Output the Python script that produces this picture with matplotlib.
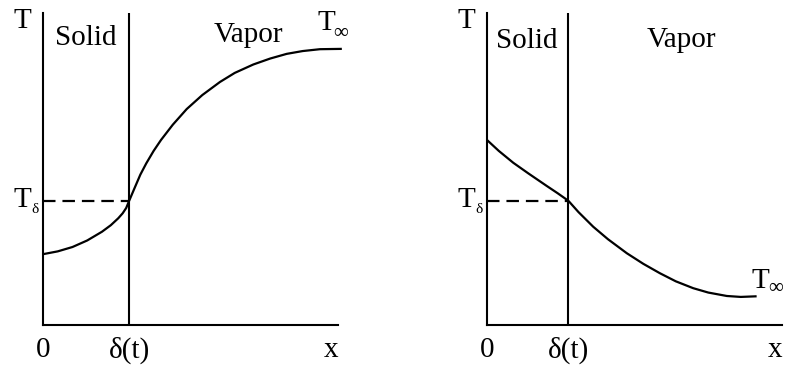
import matplotlib
matplotlib.use('Agg')
import matplotlib.pyplot as plt

plt.rcParams['font.family'] = ['Liberation Serif', 'DejaVu Serif']
plt.rcParams['lines.scale_dashes'] = False

# interface position and temperature at the interface
delta_left = 2.92
delta_right = 2.76
T_delta = 3.98

# left case: interface colder than the vapor
solid_x_l = [0, 0.5, 1.0, 1.5, 2.0, 2.3, 2.55, 2.7, 2.82, 2.92]
solid_T_l = [2.27, 2.36, 2.50, 2.71, 2.99, 3.20, 3.42, 3.58, 3.75, 3.98]
vapor_x_l = [2.92, 3.1, 3.3, 3.5, 3.75, 4.0, 4.4, 4.87, 5.4, 6.0, 6.5, 7.13, 7.7, 8.26, 8.8, 9.39, 10.13]
vapor_T_l = [3.98, 4.38, 4.82, 5.18, 5.58, 5.93, 6.42, 6.92, 7.37, 7.79, 8.08, 8.35, 8.54, 8.69, 8.78, 8.84, 8.85]

# right case: interface hotter than the vapor
solid_x_r = [0, 0.4, 0.89, 1.4, 2.02, 2.4, 2.76]
solid_T_r = [5.93, 5.58, 5.20, 4.86, 4.46, 4.22, 3.98]
vapor_x_r = [2.76, 3.1, 3.6, 4.1, 4.74, 5.3, 5.86, 6.4, 6.99, 7.5, 8.13, 8.6, 9.14]
vapor_T_r = [3.98, 3.62, 3.15, 2.75, 2.30, 1.96, 1.66, 1.40, 1.18, 1.04, 0.93, 0.90, 0.92]

FS = 21
W, H = 788, 368
fig = plt.figure(figsize=(W / 100, H / 100), dpi=100)
ax1 = fig.add_axes([43 / W, (H - 325) / H, 295 / W, 312 / H])
ax2 = fig.add_axes([487 / W, (H - 325) / H, 295 / W, 312 / H])


def panel(ax, delta, sx, sT, vx, vT):
    ax.set_xlim(0, 10)
    ax.set_ylim(0, 10)
    ax.set_xticks([])
    ax.set_yticks([])
    ax.patch.set_alpha(0)
    for s in ['top', 'right']:
        ax.spines[s].set_visible(False)
    for s in ['left', 'bottom']:
        ax.spines[s].set_linewidth(1.5)
        ax.spines[s].set_color('black')
    ax.axvline(delta, color='black', lw=1.5)
    ax.plot([0, delta], [T_delta, T_delta], color='black', lw=1.6, dashes=(9, 5))
    ax.plot(sx, sT, color='black', lw=1.6, clip_on=False,
            solid_capstyle='butt', solid_joinstyle='round')
    ax.plot(vx, vT, color='black', lw=1.6, clip_on=False,
            solid_capstyle='butt', solid_joinstyle='round')
    # axis labels
    ax.text(-0.7, 9.75, 'T', fontsize=FS, ha='center', va='center')
    ax.text(0, -0.8, '0', fontsize=FS, ha='center', va='center')
    ax.text(delta, -0.8, 'δ(t)', fontsize=FS, ha='center', va='center')
    ax.text(9.78, -0.8, 'x', fontsize=FS, ha='center', va='center')
    ax.text(-0.4, 3.78, 'T', fontsize=FS, ha='right', va='baseline')
    ax.text(-0.4, 3.6, 'δ', fontsize=11, ha='left', va='baseline')


panel(ax1, delta_left, solid_x_l, solid_T_l, vapor_x_l, vapor_T_l)
panel(ax2, delta_right, solid_x_r, solid_T_r, vapor_x_r, vapor_T_r)

ax1.text(1.44, 8.97, 'Solid', fontsize=FS, ha='center', va='baseline')
ax1.text(6.95, 9.07, 'Vapor', fontsize=FS, ha='center', va='baseline')
ax1.text(9.3, 9.46, 'T', fontsize=FS, ha='left', va='baseline')
ax1.text(9.85, 9.2, '∞', fontsize=15, ha='left', va='baseline')

ax2.text(1.36, 8.88, 'Solid', fontsize=FS, ha='center', va='baseline')
ax2.text(6.58, 8.91, 'Vapor', fontsize=FS, ha='center', va='baseline')
ax2.text(8.96, 1.19, 'T', fontsize=FS, ha='left', va='baseline')
ax2.text(9.52, 1.03, '∞', fontsize=15, ha='left', va='baseline')

fig.savefig('out.png', dpi=100)
